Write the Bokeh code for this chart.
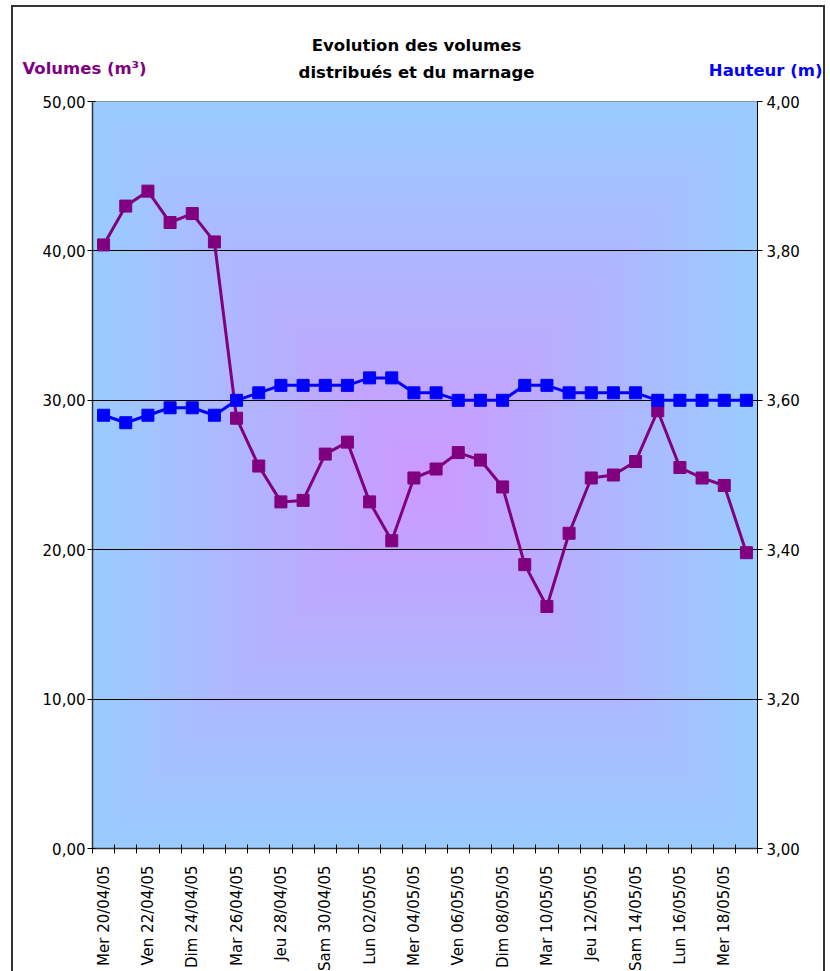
import math
import numpy as np
from bokeh.plotting import figure
from bokeh.layouts import column
from bokeh.models import (Range1d, LinearAxis, FixedTicker, CustomJSTickFormatter)
from bokeh.core.properties import value
from bokeh.embed import file_html
from bokeh.resources import INLINE

# ---- data ----
dates = ["Mer 20/04/05", "Jeu 21/04/05", "Ven 22/04/05", "Sam 23/04/05", "Dim 24/04/05",
         "Lun 25/04/05", "Mar 26/04/05", "Mer 27/04/05", "Jeu 28/04/05", "Ven 29/04/05",
         "Sam 30/04/05", "Dim 01/05/05", "Lun 02/05/05", "Mar 03/05/05", "Mer 04/05/05",
         "Jeu 05/05/05", "Ven 06/05/05", "Sam 07/05/05", "Dim 08/05/05", "Lun 09/05/05",
         "Mar 10/05/05", "Mer 11/05/05", "Jeu 12/05/05", "Ven 13/05/05", "Sam 14/05/05",
         "Dim 15/05/05", "Lun 16/05/05", "Mar 17/05/05", "Mer 18/05/05", "Jeu 19/05/05"]
volumes = [40.4, 43.0, 44.0, 41.9, 42.5, 40.6, 28.8, 25.6, 23.2, 23.3,
           26.4, 27.2, 23.2, 20.6, 24.8, 25.4, 26.5, 26.0, 24.2, 19.0,
           16.2, 21.1, 24.8, 25.0, 25.9, 29.3, 25.5, 24.8, 24.3, 19.8]
hauteur = [3.58, 3.57, 3.58, 3.59, 3.59, 3.58, 3.60, 3.61, 3.62, 3.62,
           3.62, 3.62, 3.63, 3.63, 3.61, 3.61, 3.60, 3.60, 3.60, 3.62,
           3.62, 3.61, 3.61, 3.61, 3.61, 3.60, 3.60, 3.60, 3.60, 3.60]
vol_ticks = [0, 10, 20, 30, 40, 50]
haut_ticks = [3.0, 3.2, 3.4, 3.6, 3.8, 4.0]
title_lines = ["Evolution des volumes", "distribués et du marnage"]
left_title = "Volumes (m³)"
right_title = "Hauteur (m)"

n = len(dates)
xs = [i + 0.5 for i in range(n)]

FONT = "DejaVu Sans"
W = 810
HEAD_H = 85

# ---- header with titles ----
head = figure(width=W, height=HEAD_H, x_range=Range1d(0, W), y_range=Range1d(0, HEAD_H),
              min_border=0, output_backend="svg", toolbar_location=None,
              background_fill_color="white", border_fill_color="white")
head.frame_align = False
head.axis.visible = False
head.grid.visible = False
head.outline_line_color = None
head.text(x=[W / 2 - 2, W / 2 - 2], y=[47, 20], text=title_lines,
          text_align="center", text_baseline="middle",
          text_font=value(FONT), text_font_style="bold", text_font_size="16.5px",
          text_color="black")
head.text(x=[9], y=[24], text=[left_title], text_align="left", text_baseline="middle",
          text_font=value(FONT), text_font_style="bold", text_font_size="16.5px",
          text_color="#800080")
head.text(x=[W - 1], y=[22], text=[right_title], text_align="right", text_baseline="middle",
          text_font=value(FONT), text_font_style="bold", text_font_size="16.5px",
          text_color="#0000ff")

# ---- main chart ----
p = figure(width=W, height=879, frame_width=665, frame_height=747,
           min_border_left=79, min_border_right=66, min_border_top=9, min_border_bottom=123,
           x_range=Range1d(0, n), y_range=Range1d(0, 50),
           output_backend="svg", toolbar_location=None,
           background_fill_color="#99ccff", border_fill_color="white")
p.frame_align = False

# background gradient (rectangular, from centre)
ny, nx = 374, 333
gy = np.abs(np.linspace(-1, 1, ny))[:, None]
gx = np.abs(np.linspace(-1, 1, nx))[None, :]
t = np.maximum(gx, gy)
c0 = np.array([204, 153, 255], dtype=float)
c1 = np.array([153, 204, 255], dtype=float)
rgb = c0[None, None, :] + (c1 - c0)[None, None, :] * t[..., None]
img = np.empty((ny, nx), dtype=np.uint32)
view = img.view(dtype=np.uint8).reshape((ny, nx, 4))
view[..., :3] = np.round(rgb).astype(np.uint8)
view[..., 3] = 255
p.image_rgba(image=[img], x=0, y=0, dw=n, dh=50, level="image")

p.outline_line_color = "#808080"
p.outline_line_width = 1

# grid
p.xgrid.visible = False
p.ygrid.ticker = FixedTicker(ticks=vol_ticks)
p.ygrid.grid_line_color = "black"
p.ygrid.grid_line_width = 1

# x axis
xa = p.xaxis[0]
xa.ticker = FixedTicker(ticks=xs[::2], minor_ticks=list(range(n + 1)))
xa.formatter = CustomJSTickFormatter(args=dict(labels=dates),
                                     code="return labels[Math.floor(tick)];")
xa.major_label_orientation = math.pi / 2
xa.major_tick_in = 0
xa.major_tick_out = 0
xa.minor_tick_in = 4
xa.minor_tick_out = 5
xa.minor_tick_line_color = "black"
xa.axis_line_color = "#333333"
xa.axis_line_width = 1.5
xa.major_label_text_font = FONT
xa.major_label_text_font_size = "15px"
xa.major_label_text_color = "black"
xa.major_label_standoff = 12

# left axis
ya = p.yaxis[0]
ya.ticker = FixedTicker(ticks=vol_ticks)
ya.formatter = CustomJSTickFormatter(code="return tick.toFixed(2).replace('.', ',');")
ya.major_tick_in = 3
ya.major_tick_out = 5
ya.minor_tick_line_color = None
ya.axis_line_color = "#333333"
ya.axis_line_width = 1.5
ya.major_label_text_font = FONT
ya.major_label_text_font_size = "15px"
ya.major_label_text_color = "black"
ya.major_label_standoff = 2

# right axis
p.extra_y_ranges = {"h": Range1d(3.0, 4.0)}
ra = LinearAxis(y_range_name="h", ticker=FixedTicker(ticks=haut_ticks),
                formatter=CustomJSTickFormatter(code="return tick.toFixed(2).replace('.', ',');"))
ra.major_tick_in = 0
ra.major_tick_out = 5
ra.minor_tick_line_color = None
ra.axis_line_color = "black"
ra.axis_line_width = 1
ra.major_label_text_font = FONT
ra.major_label_text_font_size = "15px"
ra.major_label_text_color = "black"
ra.major_label_standoff = 4
p.add_layout(ra, "right")

# series
p.line(xs, volumes, line_color="#800080", line_width=3)
p.scatter(xs, volumes, marker="square", size=12, fill_color="#800080", line_color="#800080")
p.line(xs, hauteur, line_color="#0000ff", line_width=3, y_range_name="h")
p.scatter(xs, hauteur, marker="square", size=12, fill_color="#0000ff", line_color="#0000ff",
          y_range_name="h")

layout = column(head, p, spacing=0,
                styles={"margin-left": "11px", "margin-top": "5px",
                        "border-left": "2px solid #333333", "border-top": "2px solid #333333",
                        "border-right": "2px solid #333333"})

open("out.html", "w").write(file_html(layout, INLINE))
